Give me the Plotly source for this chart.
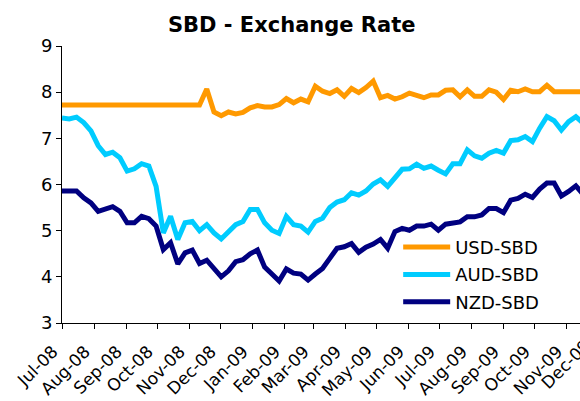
import pandas as pd
import plotly.graph_objects as go

# Weekly observation dates (x categories)
dates = pd.date_range("2008-07-01", periods=73, freq="7D")

usd_sbd = [7.72] * 20 + [
    8.07, 7.57, 7.49, 7.57, 7.53, 7.56, 7.66, 7.71, 7.68, 7.68,
    7.73, 7.86, 7.77, 7.85, 7.79, 8.13, 8.02, 7.97, 8.05, 7.91,
    8.08, 7.99, 8.10, 8.24, 7.88, 7.93, 7.85, 7.90, 7.98, 7.93,
    7.88, 7.94, 7.94, 8.04, 8.05, 7.90, 8.05, 7.91, 7.91, 8.05,
    8.00, 7.84, 8.04, 8.01, 8.07, 8.01, 8.01, 8.15,
    8.01, 8.01, 8.01, 8.01, 8.01]

aud_sbd = [
    7.44, 7.42, 7.46, 7.34, 7.16, 6.84, 6.65, 6.70, 6.58, 6.29,
    6.34, 6.45, 6.40, 5.96, 4.95, 5.31, 4.81, 5.17, 5.20, 5.00,
    5.13, 4.95, 4.82, 4.99, 5.13, 5.20, 5.46, 5.46, 5.17, 5.01,
    4.94, 5.31, 5.13, 5.10, 4.97, 5.20, 5.27, 5.50, 5.62, 5.67,
    5.82, 5.77, 5.86, 6.01, 6.10, 5.96, 6.16, 6.33, 6.34, 6.44,
    6.35, 6.40, 6.31, 6.23, 6.45, 6.45, 6.75, 6.62, 6.57, 6.68,
    6.74, 6.68, 6.95, 6.97, 7.04, 6.93, 7.22, 7.47, 7.38, 7.18,
    7.36, 7.47, 7.33]

nzd_sbd = [
    5.86, 5.86, 5.86, 5.71, 5.60, 5.42, 5.46, 5.52, 5.42, 5.17,
    5.17, 5.31, 5.26, 5.10, 4.59, 4.74, 4.28, 4.52, 4.58, 4.29,
    4.36, 4.16, 4.00, 4.13, 4.33, 4.37, 4.50, 4.58, 4.21, 4.06,
    3.91, 4.17, 4.08, 4.06, 3.93, 4.06, 4.18, 4.40, 4.62, 4.65,
    4.72, 4.53, 4.64, 4.71, 4.81, 4.62, 4.98, 5.05, 5.01, 5.10,
    5.10, 5.14, 5.01, 5.14, 5.17, 5.19, 5.30, 5.30, 5.34, 5.48,
    5.48, 5.39, 5.66, 5.70, 5.79, 5.72, 5.90, 6.03, 6.03, 5.75,
    5.85, 5.97, 5.79]

series_names = ["USD-SBD", "AUD-SBD", "NZD-SBD"]
series_colors = ["#FF9900", "#00CCFF", "#000080"]
title_text = "SBD - Exchange Rate"
clipped_tick_label = "Dec-09"

FONT = "DejaVu Sans, Verdana, sans-serif"

fig = go.Figure()
for name, vals, col in zip(series_names, [usd_sbd, aud_sbd, nzd_sbd], series_colors):
    fig.add_trace(go.Scatter(
        x=dates, y=vals, mode="lines", name=name, legendgroup=name,
        line=dict(color=col, width=5),
    ))

fig.update_layout(
    width=580, height=401,
    margin=dict(l=62, r=0, t=46, b=78),
    paper_bgcolor="white", plot_bgcolor="white",
    font=dict(family=FONT, size=18, color="black"),
    title=dict(text=title_text, x=0.503, xanchor="center", y=1 - 25 / 401, yanchor="middle",
               yref="container", automargin=False,
               font=dict(family="DejaVu Sans, sans-serif", size=21, color="black", weight="bold")),
    showlegend=True,
    legend=dict(x=0.649, y=0.340, xanchor="left", yanchor="top", bgcolor="rgba(0,0,0,0)",
                tracegroupgap=1, itemwidth=47, font=dict(size=18)),
)

fig.update_xaxes(
    type="date", range=["2008-07-01", "2009-11-14"], automargin=False,
    tick0="2008-07-01", dtick="M1", tickformat="%b-%y", tickangle=-45,
    ticklabelshift=-9, ticklabelstandoff=6, tickfont=dict(size=17),
    showline=True, linecolor="black", linewidth=1,
    ticks="outside", ticklen=5, tickcolor="black",
    showgrid=False, zeroline=False,
)
fig.update_yaxes(
    range=[3, 9], dtick=1, tick0=3, automargin=False,
    showline=True, linecolor="black", linewidth=1,
    ticks="outside", ticklen=5, tickcolor="black",
    showgrid=False, zeroline=False,
)

# The last month label falls beyond the right edge of the picture and is cut off
fig.add_annotation(text=clipped_tick_label, xref="paper", yref="paper",
                   x=1.0335, y=-0.033, xanchor="right", yanchor="top",
                   textangle=-45, showarrow=False, font=dict(size=17, color="black"))

fig.write_html("out.html", config={"displayModeBar": False},
               post_script="document.body.style.margin='0';")
